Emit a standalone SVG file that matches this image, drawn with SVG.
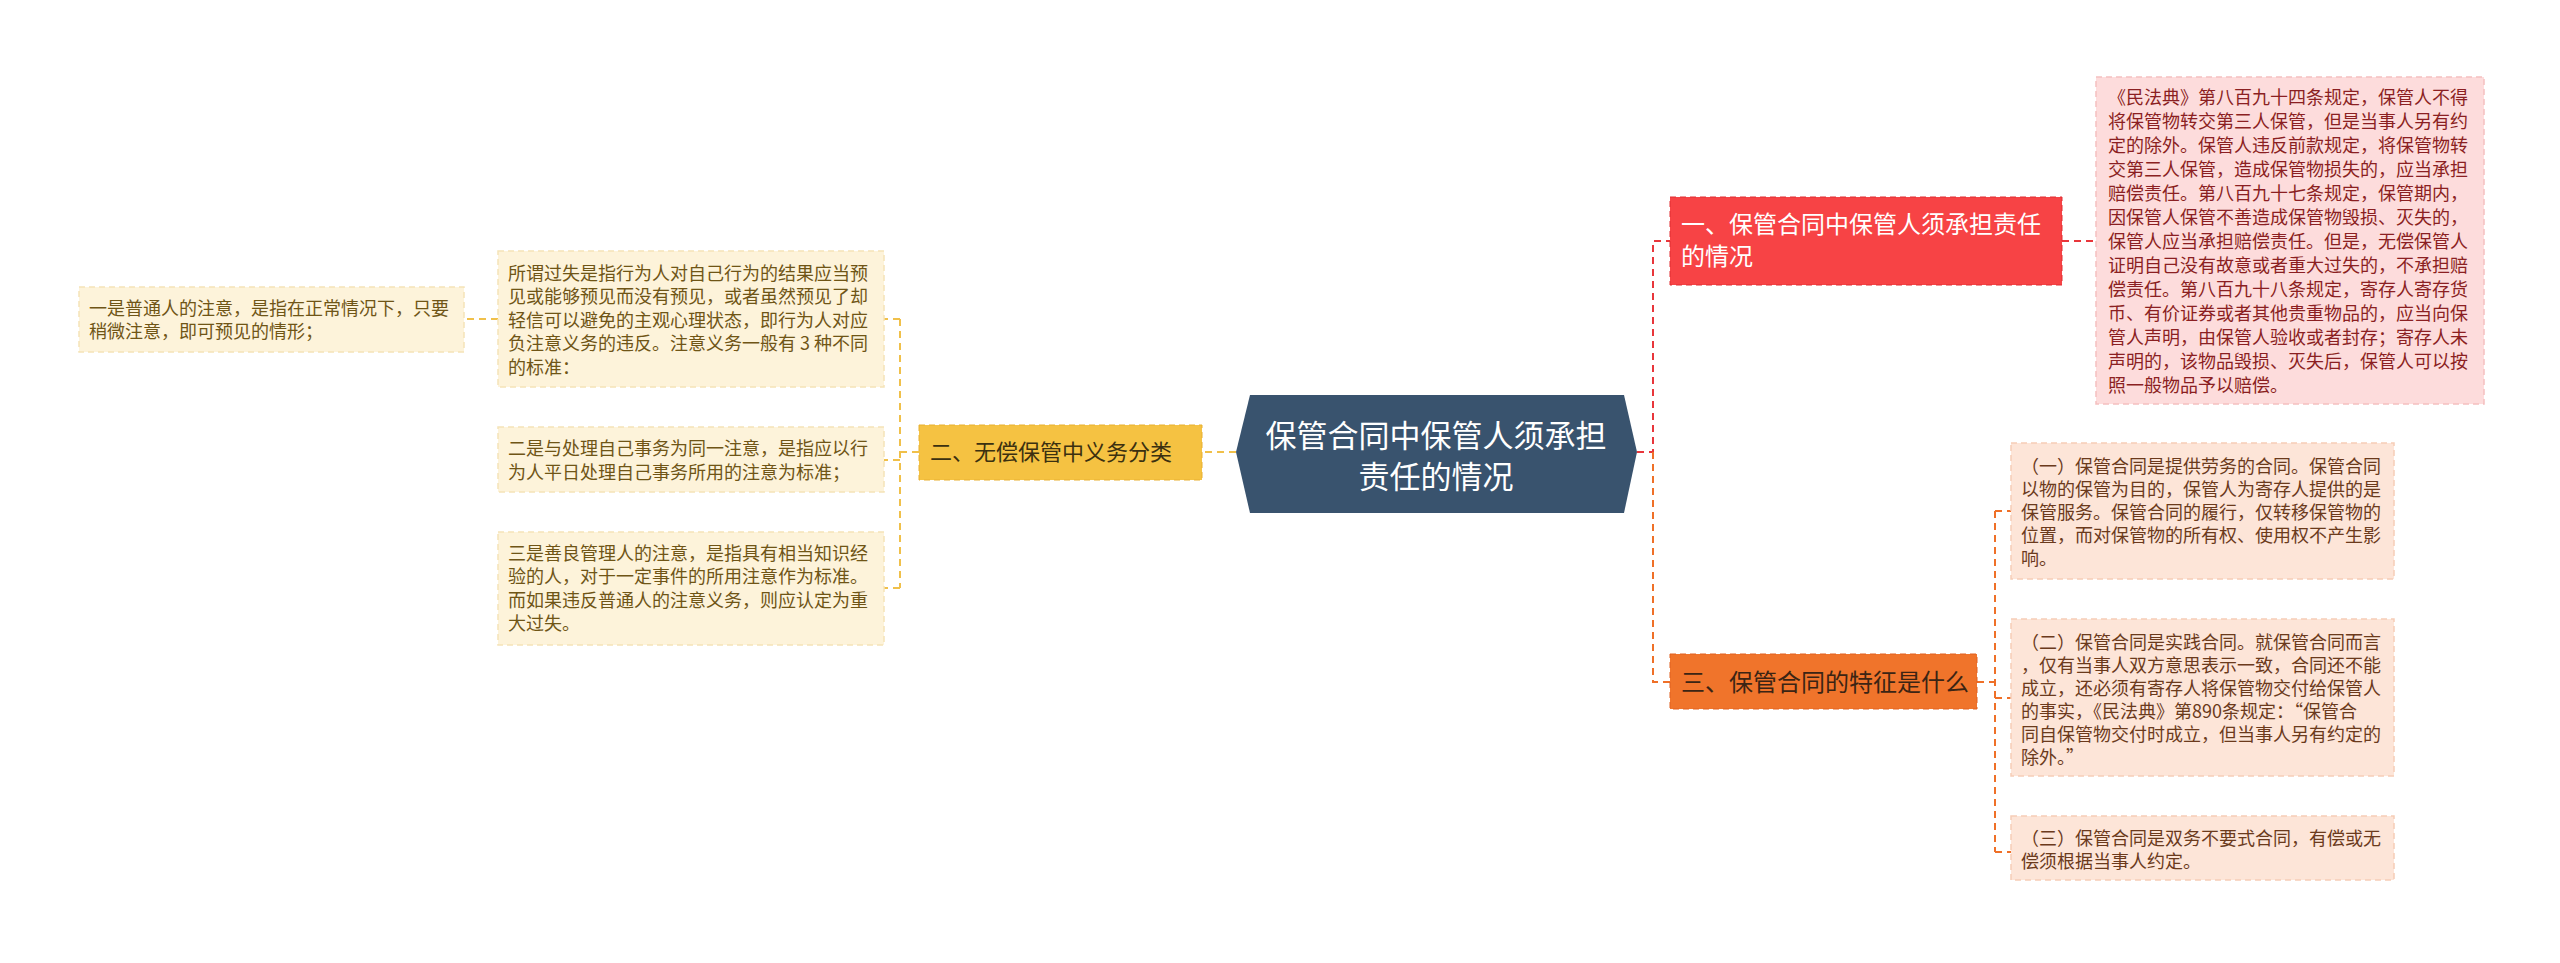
<svg xmlns="http://www.w3.org/2000/svg" width="2560" height="963" viewBox="0 0 2560 963">
<style>
text{font-family:"Noto Sans CJK SC","Noto Sans",sans-serif}
.c{fill:none;stroke-width:2;stroke-dasharray:7,5}
.r{stroke:#e8363b}.o{stroke:#ef7028}.y{stroke:#f0c04a}
.rd{fill:#fddcdc;stroke:#f5c0c0;stroke-dasharray:6,4;stroke-width:1.5}
.od{fill:#fde5d8;stroke:#f6cdb6;stroke-dasharray:6,4;stroke-width:1.5}
.yd{fill:#fdf3da;stroke:#f5e4b8;stroke-dasharray:6,4;stroke-width:1.5}
.rt{fill:#8b1f22;font-size:18px}
.ot{fill:#6b3a1c;font-size:18px}
.yt{fill:#6f5516;font-size:18px}
</style>
<rect width="2560" height="963" fill="#fff"/>
<g id="connectors">
<path class="c r" d="M1637,452 H1653 V241 H1670"/>
<path class="c o" d="M1653,452 V682 H1670"/>
<path class="c r" d="M2062,241 H2095"/>
<path class="c o" d="M1977,682 H1995 M1995,511 V852 M1995,511 H2011 M1995,698 H2011 M1995,852 H2011"/>
<path class="c y" d="M1236,452 H1202"/>
<path class="c y" d="M919,452 H900 M900,319 V588 M900,319 H884 M900,460 H884 M900,588 H884"/>
<path class="c y" d="M498,319 H464"/>
</g>
<g id="center">
<polygon points="1250,395 1624,395 1637,452 1624,513 1250,513 1236,452" fill="#39536e"/>
<text x="1436" y="447" fill="#fff" font-size="31" text-anchor="middle">保管合同中保管人须承担</text>
<text x="1436" y="488" fill="#fff" font-size="31" text-anchor="middle">责任的情况</text>
</g>
<g id="n1">
<rect x="1670" y="197" width="392" height="88" fill="#f74345" stroke="#e02f32" stroke-dasharray="6,4"/>
<text x="1681" y="233" fill="#fff" font-size="24">一、保管合同中保管人须承担责任</text>
<text x="1681" y="265" fill="#fff" font-size="24">的情况</text>
</g>
<g id="n1d">
<rect class="rd" x="2096" y="77" width="388" height="327"/>
<g class="rt">
<text x="2108" y="104">《民法典》第八百九十四条规定，保管人不得</text>
<text x="2108" y="128">将保管物转交第三人保管，但是当事人另有约</text>
<text x="2108" y="152">定的除外。保管人违反前款规定，将保管物转</text>
<text x="2108" y="176">交第三人保管，造成保管物损失的，应当承担</text>
<text x="2108" y="200">赔偿责任。第八百九十七条规定，保管期内，</text>
<text x="2108" y="224">因保管人保管不善造成保管物毁损、灭失的，</text>
<text x="2108" y="248">保管人应当承担赔偿责任。但是，无偿保管人</text>
<text x="2108" y="272">证明自己没有故意或者重大过失的，不承担赔</text>
<text x="2108" y="296">偿责任。第八百九十八条规定，寄存人寄存货</text>
<text x="2108" y="320">币、有价证券或者其他贵重物品的，应当向保</text>
<text x="2108" y="344">管人声明，由保管人验收或者封存；寄存人未</text>
<text x="2108" y="368">声明的，该物品毁损、灭失后，保管人可以按</text>
<text x="2108" y="392">照一般物品予以赔偿。</text>
</g>
</g>
<g id="n3">
<rect x="1670" y="654" width="307" height="55" fill="#f0742b" stroke="#e06020" stroke-dasharray="6,4"/>
<text x="1681" y="691" fill="#3b2414" font-size="24">三、保管合同的特征是什么</text>
</g>
<g id="n3d1">
<rect class="od" x="2011" y="443" width="383" height="136"/>
<g class="ot">
<text x="2021" y="473">（一）保管合同是提供劳务的合同。保管合同</text>
<text x="2021" y="496">以物的保管为目的，保管人为寄存人提供的是</text>
<text x="2021" y="519">保管服务。保管合同的履行，仅转移保管物的</text>
<text x="2021" y="542">位置，而对保管物的所有权、使用权不产生影</text>
<text x="2021" y="565">响。</text>
</g>
</g>
<g id="n3d2">
<rect class="od" x="2011" y="619" width="383" height="157"/>
<g class="ot">
<text x="2021" y="649">（二）保管合同是实践合同。就保管合同而言</text>
<text x="2021" y="672">，仅有当事人双方意思表示一致，合同还不能</text>
<text x="2021" y="695">成立，还必须有寄存人将保管物交付给保管人</text>
<text x="2021" y="718">的事实，《民法典》第890条规定：“保管合</text>
<text x="2021" y="741">同自保管物交付时成立，但当事人另有约定的</text>
<text x="2021" y="764">除外。”</text>
</g>
</g>
<g id="n3d3">
<rect class="od" x="2011" y="816" width="383" height="64"/>
<g class="ot">
<text x="2021" y="845">（三）保管合同是双务不要式合同，有偿或无</text>
<text x="2021" y="868">偿须根据当事人约定。</text>
</g>
</g>
<g id="n2">
<rect x="919" y="425" width="283" height="55" fill="#f5c242" stroke="#e8b030" stroke-dasharray="6,4"/>
<text x="930" y="460" fill="#3b3010" font-size="22">二、无偿保管中义务分类</text>
</g>
<g id="n2d1">
<rect class="yd" x="498" y="251" width="386" height="136"/>
<g class="yt">
<text x="508" y="280">所谓过失是指行为人对自己行为的结果应当预</text>
<text x="508" y="303">见或能够预见而没有预见，或者虽然预见了却</text>
<text x="508" y="327">轻信可以避免的主观心理状态，即行为人对应</text>
<text x="508" y="350">负注意义务的违反。注意义务一般有 3 种不同</text>
<text x="508" y="374">的标准：</text>
</g>
</g>
<g id="n2d2">
<rect class="yd" x="498" y="427" width="386" height="65"/>
<g class="yt">
<text x="508" y="455">二是与处理自己事务为同一注意，是指应以行</text>
<text x="508" y="479">为人平日处理自己事务所用的注意为标准；</text>
</g>
</g>
<g id="n2d3">
<rect class="yd" x="498" y="532" width="386" height="113"/>
<g class="yt">
<text x="508" y="560">三是善良管理人的注意，是指具有相当知识经</text>
<text x="508" y="583">验的人，对于一定事件的所用注意作为标准。</text>
<text x="508" y="607">而如果违反普通人的注意义务，则应认定为重</text>
<text x="508" y="630">大过失。</text>
</g>
</g>
<g id="n2d1a">
<rect class="yd" x="79" y="287" width="385" height="65"/>
<g class="yt">
<text x="89" y="315">一是普通人的注意，是指在正常情况下，只要</text>
<text x="89" y="338">稍微注意，即可预见的情形；</text>
</g>
</g>
</svg>
